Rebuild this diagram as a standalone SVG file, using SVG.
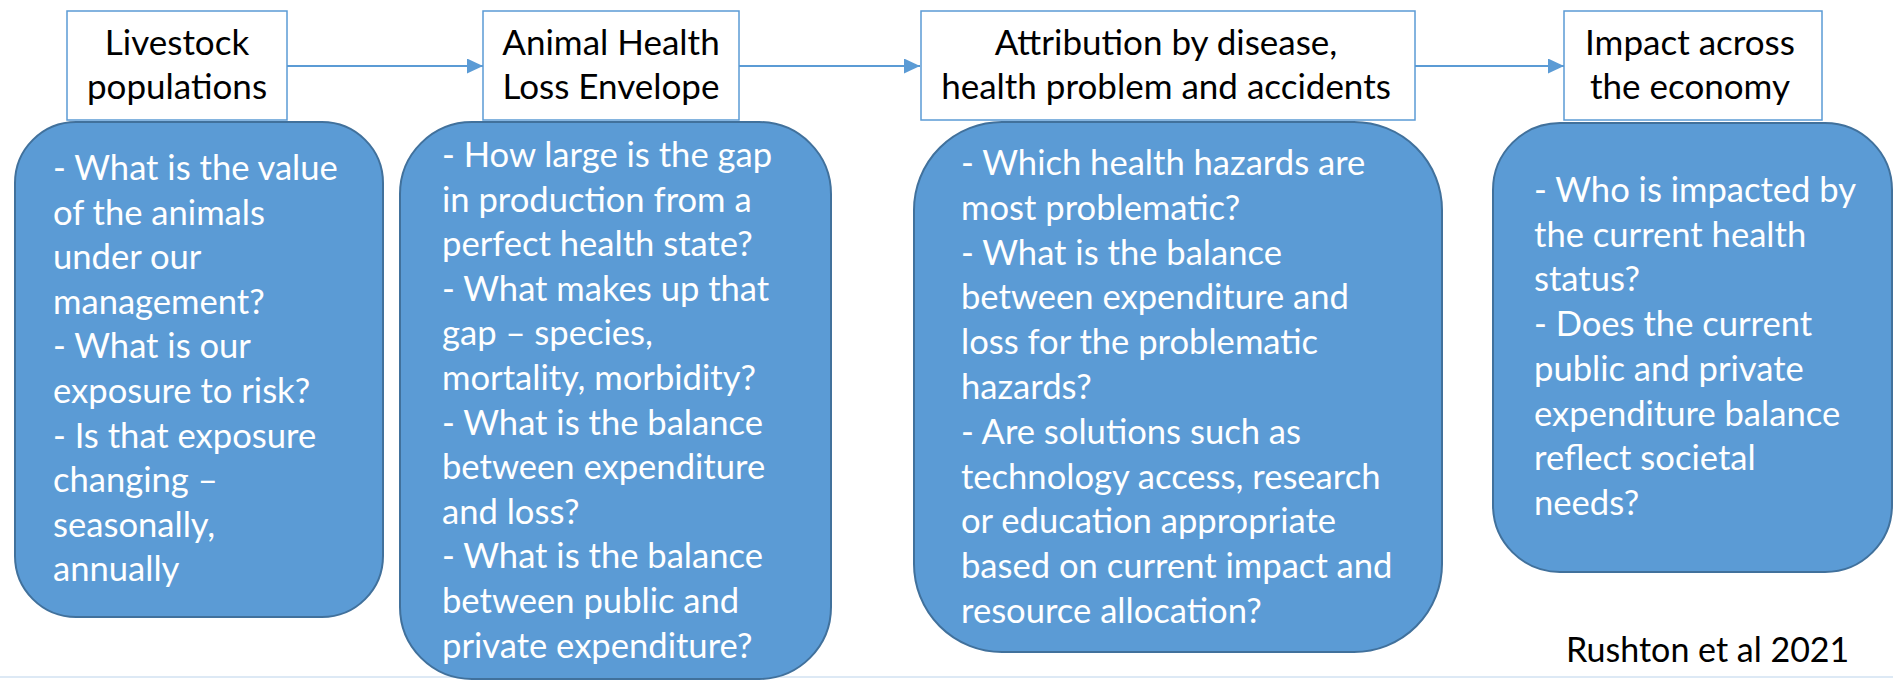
<svg xmlns="http://www.w3.org/2000/svg" width="1893" height="680" viewBox="0 0 1893 680">
<style>
.hdr{fill:#ffffff;stroke:#5b9bd5;stroke-width:1.5}
.blue{fill:#5b9bd5;stroke:#41719c;stroke-width:2}
.ht{font-family:Lato,"Liberation Sans",sans-serif;font-size:35px;fill:#000000;text-anchor:middle}
.bt{font-family:Lato,"Liberation Sans",sans-serif;font-size:34.6px;fill:#ffffff}
.conn{stroke:#5b9bd5;stroke-width:2;fill:none}
</style>
<defs>
<marker id="arr" viewBox="0 0 16 15" refX="16" refY="7.5" markerWidth="16" markerHeight="15" markerUnits="userSpaceOnUse" orient="auto">
<path d="M0,0 L16,7.5 L0,15 z" fill="#5b9bd5"/>
</marker>
</defs>
<rect x="0" y="0" width="1893" height="680" fill="#ffffff"/>
<line x1="0" y1="677" x2="1893" y2="677" stroke="#dde9f5" stroke-width="2"/>

<g id="connectors">
<line class="conn" x1="287" y1="66" x2="483" y2="66" marker-end="url(#arr)"/>
<line class="conn" x1="739" y1="66" x2="920" y2="66" marker-end="url(#arr)"/>
<line class="conn" x1="1415" y1="66" x2="1564" y2="66" marker-end="url(#arr)"/>
</g>

<g id="livestock">
<rect class="hdr" x="67" y="11" width="220" height="109"/>
<text class="ht" x="177" y="55">Livestock</text>
<text class="ht" x="177" y="99">populations</text>
</g>
<g id="livestock-questions">
<rect class="blue" x="15" y="122" width="368" height="495" rx="61" ry="61"/>
<text class="bt" x="53" y="180">- What is the value</text>
<text class="bt" x="53" y="224.6">of the animals</text>
<text class="bt" x="53" y="269.2">under our</text>
<text class="bt" x="53" y="313.8">management?</text>
<text class="bt" x="53" y="358.4">- What is our</text>
<text class="bt" x="53" y="403">exposure to risk?</text>
<text class="bt" x="53" y="447.6">- Is that exposure</text>
<text class="bt" x="53" y="492.2">changing –</text>
<text class="bt" x="53" y="536.8">seasonally,</text>
<text class="bt" x="53" y="581.4">annually</text>
</g>

<g id="loss-envelope">
<rect class="hdr" x="483" y="11" width="256" height="109"/>
<text class="ht" x="611" y="55">Animal Health</text>
<text class="ht" x="611" y="99">Loss Envelope</text>
</g>
<g id="loss-envelope-questions">
<rect class="blue" x="400" y="122" width="431" height="557" rx="72" ry="72"/>
<text class="bt" x="442" y="167">- How large is the gap</text>
<text class="bt" x="442" y="211.6">in production from a</text>
<text class="bt" x="442" y="256.2">perfect health state?</text>
<text class="bt" x="442" y="300.8">- What makes up that</text>
<text class="bt" x="442" y="345.4">gap – species,</text>
<text class="bt" x="442" y="390">mortality, morbidity?</text>
<text class="bt" x="442" y="434.6">- What is the balance</text>
<text class="bt" x="442" y="479.2">between expenditure</text>
<text class="bt" x="442" y="523.8">and loss?</text>
<text class="bt" x="442" y="568.4">- What is the balance</text>
<text class="bt" x="442" y="613">between public and</text>
<text class="bt" x="442" y="657.6">private expenditure?</text>
</g>

<g id="attribution">
<rect class="hdr" x="921" y="11" width="494" height="109"/>
<text class="ht" x="1166" y="55">Attribution by disease,</text>
<text class="ht" x="1166" y="99">health problem and accidents</text>
</g>
<g id="attribution-questions">
<rect class="blue" x="914" y="122" width="528" height="530" rx="88" ry="88"/>
<text class="bt" x="961" y="175">- Which health hazards are</text>
<text class="bt" x="961" y="219.8">most problematic?</text>
<text class="bt" x="961" y="264.6">- What is the balance</text>
<text class="bt" x="961" y="309.4">between expenditure and</text>
<text class="bt" x="961" y="354.2">loss for the problematic</text>
<text class="bt" x="961" y="399">hazards?</text>
<text class="bt" x="961" y="443.8">- Are solutions such as</text>
<text class="bt" x="961" y="488.6">technology access, research</text>
<text class="bt" x="961" y="533.4">or education appropriate</text>
<text class="bt" x="961" y="578.2">based on current impact and</text>
<text class="bt" x="961" y="623">resource allocation?</text>
</g>

<g id="impact">
<rect class="hdr" x="1564" y="11" width="258" height="109"/>
<text class="ht" x="1690" y="55">Impact across</text>
<text class="ht" x="1690" y="99">the economy</text>
</g>
<g id="impact-questions">
<rect class="blue" x="1493" y="123" width="399" height="449" rx="67" ry="67"/>
<text class="bt" x="1534" y="202">- Who is impacted by</text>
<text class="bt" x="1534" y="246.7">the current health</text>
<text class="bt" x="1534" y="291.4">status?</text>
<text class="bt" x="1534" y="336.1">- Does the current</text>
<text class="bt" x="1534" y="380.8">public and private</text>
<text class="bt" x="1534" y="425.5">expenditure balance</text>
<text class="bt" x="1534" y="470.2">reflect societal</text>
<text class="bt" x="1534" y="514.9">needs?</text>
</g>

<g id="citation">
<text x="1566" y="662" font-family="Lato, 'Liberation Sans', sans-serif" font-size="34" fill="#000000">Rushton et al 2021</text>
</g>
</svg>
